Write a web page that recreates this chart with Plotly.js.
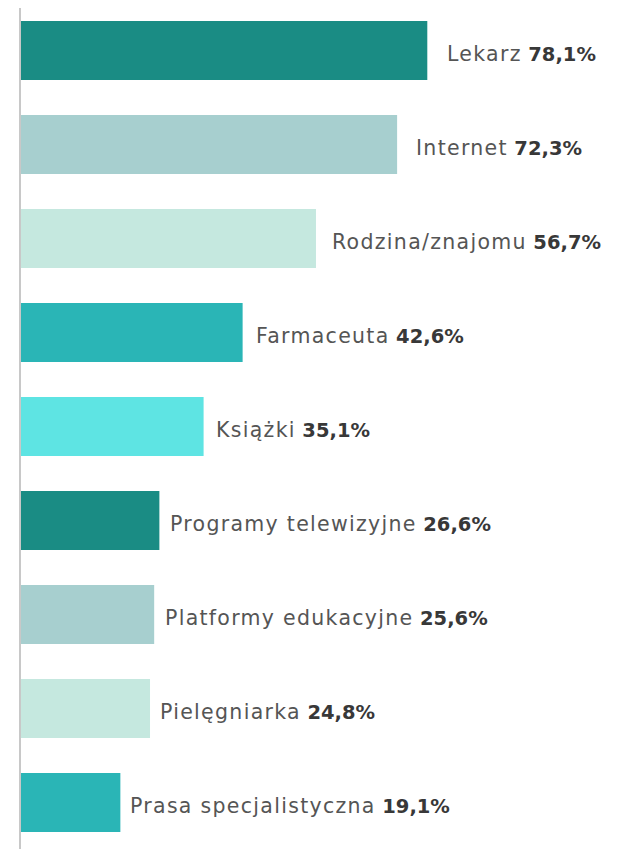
<!DOCTYPE html>
<html><head><meta charset="utf-8">
<script src="https://cdn.plot.ly/plotly-3.0.1.min.js"></script>
<style>html,body{margin:0;padding:0;background:#fff}#chart{width:619px;height:849px}</style>
</head><body><div id="chart"></div>
<script>
const categories = ["Lekarz","Internet","Rodzina/znajomu","Farmaceuta","Książki","Programy telewizyjne","Platformy edukacyjne","Pielęgniarka","Prasa specjalistyczna"];
const values = [78.1,72.3,56.7,42.6,35.1,26.6,25.6,24.8,19.1];
const valueLabels = ["78,1%","72,3%","56,7%","42,6%","35,1%","26,6%","25,6%","24,8%","19,1%"];
const colors = ["#1a8c84","#a7cfcf","#c5e8df","#2ab5b6","#5ee4e3","#1a8c84","#a7cfcf","#c5e8df","#2ab5b6"];

const FONT = "DejaVu Sans, sans-serif";
const annotations = categories.map((c,i)=>({
  x: values[i]*1.033, y: i, xref:'x', yref:'y',
  xanchor:'left', yanchor:'middle', xshift: 4, yshift: -4,
  text: '<span style="color:#555555;letter-spacing:1.3px">'+c+'</span> <b style="color:#383838;font-size:19.5px">'+valueLabels[i]+'</b>',
  showarrow:false, font:{family:FONT, size:20.5, color:'#555555'}
}));

Plotly.newPlot('chart', [{
  type:'bar', orientation:'h', x: values, y: categories.map((c,i)=>i),
  marker:{color: colors}, width: 0.628, hoverinfo:'none'
}], {
  width:619, height:849,
  margin:{l:21, r:0, t:8, b:0},
  paper_bgcolor:'#fff', plot_bgcolor:'#fff',
  showlegend:false,
  xaxis:{range:[0,114.95], showgrid:false, zeroline:false, showticklabels:false, showline:false, fixedrange:true},
  yaxis:{range:[8.495,-0.452], showgrid:false, zeroline:false, showticklabels:false, showline:true, linecolor:'#c8c8c8', linewidth:2, ticks:'', fixedrange:true},
  annotations: annotations
}, {displayModeBar:false, staticPlot:true});
</script></body></html>
